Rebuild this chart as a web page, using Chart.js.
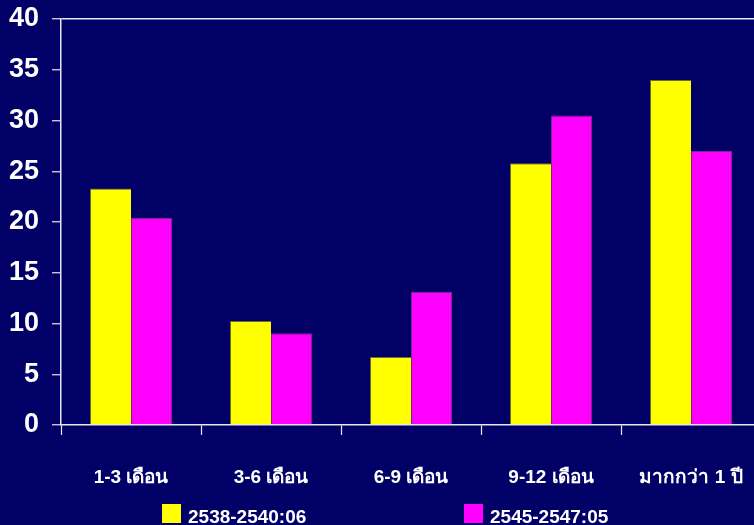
<!DOCTYPE html>
<html>
<head>
<meta charset="utf-8">
<script src="https://cdn.jsdelivr.net/npm/chart.js@4/dist/chart.umd.min.js"></script>
<style>
  html, body { margin: 0; padding: 0; background: #000066; overflow: hidden; }
  #wrap { width: 770px; height: 525px; }
</style>
</head>
<body>
<div id="wrap"><canvas id="c" width="770" height="525"></canvas></div>
<script>
// Duration groups and the two survey periods
const categories = ['1-3 เดือน', '3-6 เดือน', '6-9 เดือน', '9-12 เดือน', 'มากกว่า 1 ปี'];
const seriesLabels = ['2538-2540:06', '2545-2547:05'];
const values2538 = [23.3, 10.25, 6.7, 25.8, 34.0];
const values2545 = [20.4, 9.05, 13.1, 30.5, 27.0];
const yTicks = [0, 5, 10, 15, 20, 25, 30, 35, 40];

const FONT = '"Liberation Sans", Arial, "Noto Sans", "DejaVu Sans", sans-serif';
const AXIS = '#e8e8f0';

// Legend drawn beneath the axis labels, items laid out in two columns
const bottomLegend = {
  id: 'bottomLegend',
  afterDraw(chart) {
    const ctx = chart.ctx;
    const slots = [162, 464];
    ctx.save();
    ctx.font = 'bold 19px ' + FONT;
    ctx.textBaseline = 'alphabetic';
    ctx.textAlign = 'left';
    chart.data.datasets.forEach((ds, i) => {
      const x = slots[i];
      ctx.fillStyle = ds.backgroundColor;
      ctx.fillRect(x, 504, 19, 19);
      ctx.fillStyle = '#ffffff';
      ctx.fillText(ds.label, x + 26, 523);
    });
    ctx.restore();
  }
};

new Chart(document.getElementById('c'), {
  type: 'bar',
  data: {
    labels: categories,
    datasets: [
      { label: seriesLabels[0], data: values2538, backgroundColor: '#ffff00',
        borderColor: 'rgba(120,120,40,0.9)', borderWidth: { left: 1, top: 1 } },
      { label: seriesLabels[1], data: values2545, backgroundColor: '#ff00ff',
        borderColor: 'rgba(140,40,140,0.9)', borderWidth: { left: 1, top: 1, right: 1 } }
    ]
  },
  options: {
    responsive: false,
    animation: false,
    devicePixelRatio: 1,
    layout: { padding: { top: 19, right: 9, left: 0, bottom: 0 } },
    categoryPercentage: 0.586,
    barPercentage: 1.0,
    plugins: {
      legend: { display: false },
      tooltip: { enabled: false }
    },
    scales: {
      x: {
        offset: true,
        grid: {
          offset: true,
          drawOnChartArea: false,
          drawTicks: true,
          tickLength: 10,
          tickColor: AXIS,
          tickWidth: 1.2
        },
        border: { display: true, color: AXIS, width: 1.5 },
        ticks: {
          color: '#ffffff',
          font: { family: FONT, size: 19, weight: 'bold' },
          padding: 31,
          maxRotation: 0,
          autoSkip: false
        },
        afterFit(scale) {
          scale.height = 100;
          scale.paddingLeft = 0;
          scale.paddingRight = 0;
        }
      },
      y: {
        min: 0,
        max: 40,
        afterBuildTicks(scale) { scale.ticks = yTicks.map(v => ({ value: v })); },
        grid: {
          color: ctx => (ctx.tick && ctx.tick.value === 40) ? AXIS : 'rgba(0,0,0,0)',
          lineWidth: 1.5,
          drawTicks: true,
          tickLength: 9,
          tickColor: AXIS,
          tickWidth: 1.2
        },
        border: { display: true, color: AXIS, width: 1.5 },
        ticks: {
          color: '#ffffff',
          font: { family: FONT, size: 27, weight: 'bold' },
          padding: 13
        },
        afterFit(scale) {
          scale.width = 61;
          scale.paddingTop = 0;
          scale.paddingBottom = 0;
        }
      }
    }
  },
  plugins: [bottomLegend]
});
</script>
</body>
</html>
